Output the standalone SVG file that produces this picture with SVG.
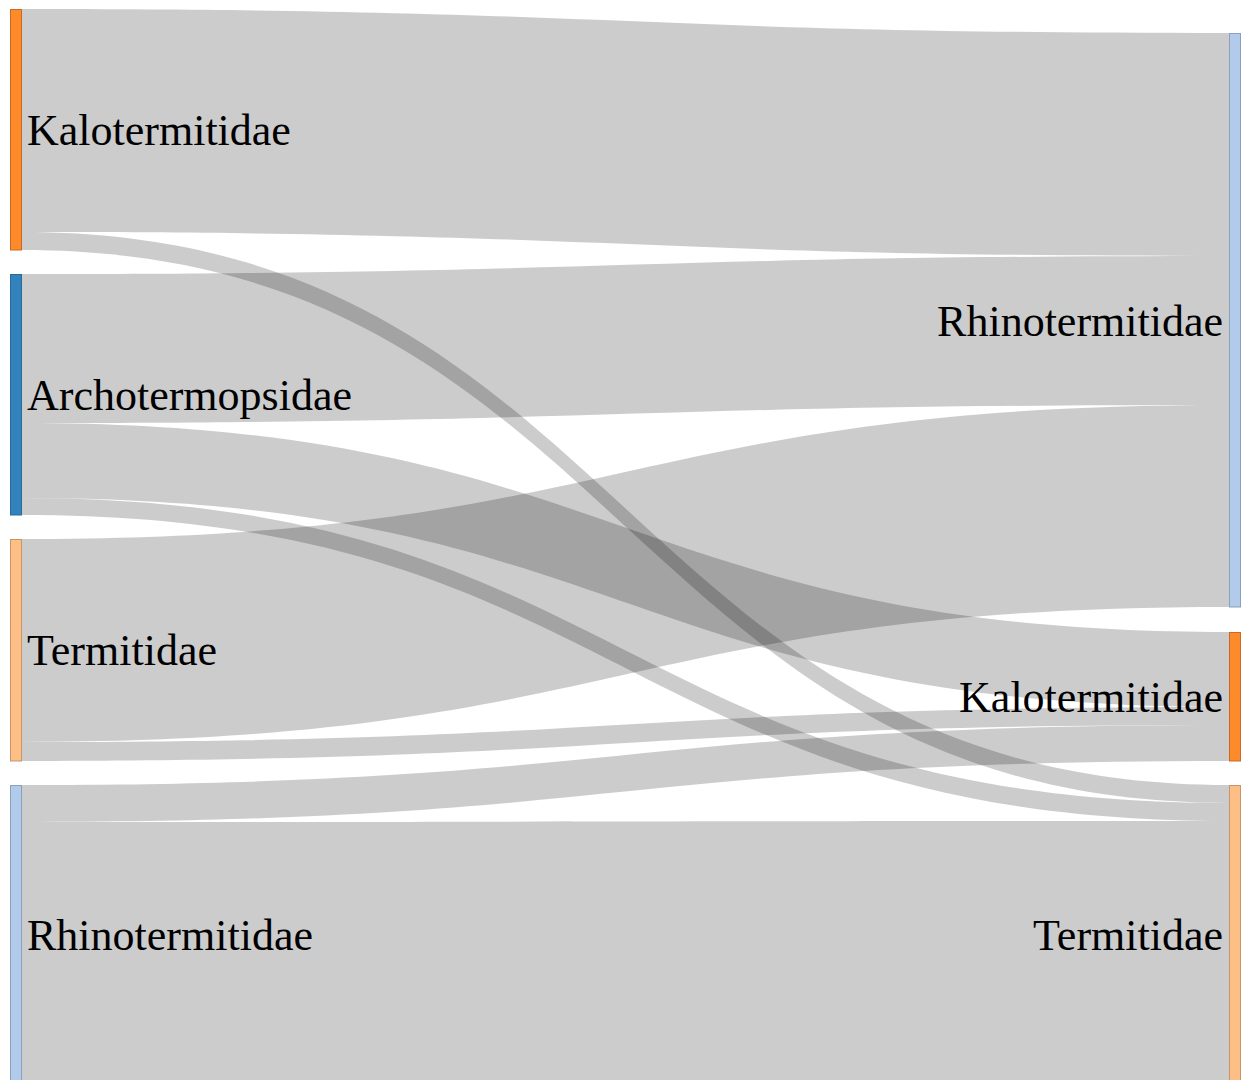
<svg xmlns="http://www.w3.org/2000/svg" width="1249" height="1080" viewBox="0 0 1249 1080">
<style>
.link{fill:#000;fill-opacity:0.2;stroke:none}
.node{stroke-width:1}
.lbl{font-family:"Liberation Serif","Times New Roman",serif;font-size:44px;fill:#000}
.l{text-anchor:start}
.r{text-anchor:end}
</style>
<rect x="0" y="0" width="1249" height="1080" fill="#fff"/>
<g id="links">
<path class="link" d="M22,9 C625.5,9 625.5,33 1229,33 L1229,256 C625.5,256 625.5,232 22,232 Z"/>
<path class="link" d="M22,232 C625.5,232 625.5,785 1229,785 L1229,803 C625.5,803 625.5,250 22,250 Z"/>
<path class="link" d="M22,274 C625.5,274 625.5,256 1229,256 L1229,405 C625.5,405 625.5,423 22,423 Z"/>
<path class="link" d="M22,423 C625.5,423 625.5,632 1229,632 L1229,707 C625.5,707 625.5,498 22,498 Z"/>
<path class="link" d="M22,498 C625.5,498 625.5,803 1229,803 L1229,821 C625.5,821 625.5,515 22,515 Z"/>
<path class="link" d="M22,539 C625.5,539 625.5,405 1229,405 L1229,607 C625.5,607 625.5,742 22,742 Z"/>
<path class="link" d="M22,742 C625.5,742 625.5,707 1229,707 L1229,725 C625.5,725 625.5,761 22,761 Z"/>
<path class="link" d="M22,785 C625.5,785 625.5,725 1229,725 L1229,761 C625.5,761 625.5,822 22,822 Z"/>
<path class="link" d="M22,822 C625.5,822 625.5,821 1229,821 L1229,1085 C625.5,1085 625.5,1085 22,1085 Z"/>
</g>
<g id="node-left-kalotermitidae">
<rect class="node" x="10.5" y="9.5" width="11" height="240.5" fill="#fd8b29" stroke="#c8692a"/>
<text class="lbl l" x="27" y="145">Kalotermitidae</text>
</g>
<g id="node-left-archotermopsidae">
<rect class="node" x="10.5" y="274.5" width="11" height="240.5" fill="#3182bd" stroke="#2a6a99"/>
<text class="lbl l" x="27" y="410">Archotermopsidae</text>
</g>
<g id="node-left-termitidae">
<rect class="node" x="10.5" y="539.5" width="11" height="221.5" fill="#fdbf86" stroke="#c8946a"/>
<text class="lbl l" x="27" y="665">Termitidae</text>
</g>
<g id="node-left-rhinotermitidae">
<rect class="node" x="10.5" y="785.5" width="11" height="300" fill="#b3cbea" stroke="#8aa0bd"/>
<text class="lbl l" x="27" y="950">Rhinotermitidae</text>
</g>
<g id="node-right-rhinotermitidae">
<rect class="node" x="1229.5" y="33.5" width="11" height="573.5" fill="#b3cbea" stroke="#8aa0bd"/>
<text class="lbl r" x="1223" y="336">Rhinotermitidae</text>
</g>
<g id="node-right-kalotermitidae">
<rect class="node" x="1229.5" y="632.5" width="11" height="128.5" fill="#fd8b29" stroke="#c8692a"/>
<text class="lbl r" x="1223" y="712">Kalotermitidae</text>
</g>
<g id="node-right-termitidae">
<rect class="node" x="1229.5" y="785.5" width="11" height="300" fill="#fdbf86" stroke="#c8946a"/>
<text class="lbl r" x="1223" y="950">Termitidae</text>
</g>
</svg>
